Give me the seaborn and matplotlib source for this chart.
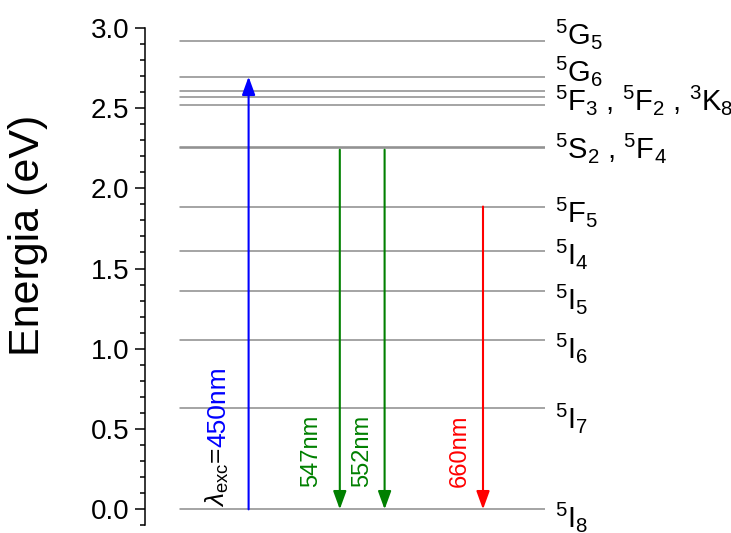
import matplotlib
matplotlib.use("Agg")
import matplotlib.pyplot as plt
from matplotlib.ticker import MultipleLocator, FormatStrFormatter
import numpy as np
import pandas as pd
import seaborn as sns

# Ho3+ energy levels (eV)
level_energy = [0.0, 0.633, 1.055, 1.363, 1.612, 1.886,
                2.248, 2.259, 2.518, 2.570, 2.605, 2.695, 2.918]

# Term labels and the energy each label refers to
term_labels = [r"$^{5}$I$_{8}$", r"$^{5}$I$_{7}$", r"$^{5}$I$_{6}$", r"$^{5}$I$_{5}$",
               r"$^{5}$I$_{4}$", r"$^{5}$F$_{5}$",
               r"$^{5}$S$_{2}$ , $^{5}$F$_{4}$",
               r"$^{5}$F$_{3}$ , $^{5}$F$_{2}$ , $^{3}$K$_{8}$",
               r"$^{5}$G$_{6}$", r"$^{5}$G$_{5}$"]
term_energy = [0.0, 0.633, 1.055, 1.363, 1.612, 1.886, 2.2535, 2.570, 2.695, 2.918]

# Transitions: start / end energies, wavelength labels
trans_start = [0.0, 2.24, 2.24, 1.886]
trans_end = [2.695, 0.0, 0.0, 0.0]
trans_labels = ["450nm", "547nm", "552nm", "660nm"]
trans_colors = ["#0000ff", "#008000", "#008000", "#ff0000"]

# layout (x in axis units 0..100)
line_x0, line_x1 = 8.75, 100.0
arrow_x = [25.9, 48.7, 59.9, 84.5]
text_x = [None, 41.5, 54.4, 78.75]
label_drop_px = [18, 20, 18, 19, 14, 16, 10.5, 13, 5, 3.5]

sns.set_style("ticks")
plt.rcParams["font.family"] = ["Liberation Sans", "DejaVu Sans"]
plt.rcParams["mathtext.fontset"] = "custom"
plt.rcParams["mathtext.rm"] = "Liberation Sans"
plt.rcParams["mathtext.it"] = "Liberation Sans:italic"
plt.rcParams["mathtext.bf"] = "Liberation Sans:bold"
for key in ["text.color", "axes.labelcolor", "xtick.color", "ytick.color",
            "axes.edgecolor"]:
    plt.rcParams[key] = "black"

W, H = 731, 533
fig = plt.figure(figsize=(W / 100, H / 100), dpi=100)
ax_left, ax_right = 145, 545
ax_top, ax_bot = 27.7, 525.4
ax = fig.add_axes([ax_left / W, (H - ax_bot) / H,
                   (ax_right - ax_left) / W, (ax_bot - ax_top) / H])

# energy level lines
df = pd.DataFrame({
    "x": np.tile([line_x0, line_x1], len(level_energy)),
    "E": np.repeat(level_energy, 2),
    "level": np.repeat(np.arange(len(level_energy)), 2),
})
sns.lineplot(data=df, x="x", y="E", units="level", estimator=None,
             color="#8c8c8c", lw=1.1, ax=ax, legend=False)

ax.set_xlim(0, 100)
ax.set_ylim(-0.1, 3.0)

# transition arrows
for x, e0, e1, c in zip(arrow_x, trans_start, trans_end, trans_colors):
    ax.annotate("", xy=(x, e1), xytext=(x, e0),
                arrowprops=dict(arrowstyle="-|>,head_length=0.55,head_width=0.2",
                                color=c, lw=1.5, shrinkA=0, shrinkB=0,
                                mutation_scale=20))

# emission wavelength labels
for x, lab, c in zip(text_x[1:], trans_labels[1:], trans_colors[1:]):
    ax.text(x, 0.139, lab, rotation=90, ha="center", va="bottom",
            color=c, fontsize=17)

# excitation label: black lambda part followed by blue wavelength
t1 = ax.text(20.0, 0.015, r"$\lambda_{\mathrm{exc}}$=", rotation=90,
             rotation_mode="anchor", ha="left", va="baseline",
             color="black", fontsize=19)
fig.canvas.draw()
bb = t1.get_window_extent()
y_end = ax.transData.inverted().transform((0, bb.y1))[1]
ax.text(20.0, y_end, trans_labels[0], rotation=90, rotation_mode="anchor",
        ha="left", va="baseline", color=trans_colors[0], fontsize=19)

# term labels on the right
for lab, e, d in zip(term_labels, term_energy, label_drop_px):
    ax.annotate(lab, xy=(102.5, e), xytext=(0, -d * 0.72),
                textcoords="offset points", ha="left", va="baseline",
                fontsize=21, annotation_clip=False)

# axis styling
for s in ["top", "right", "bottom"]:
    ax.spines[s].set_visible(False)
ax.spines["left"].set_linewidth(1.1)
ax.spines["left"].set_color("black")
ax.set_xticks([])
ax.set_xlabel("")
ax.yaxis.set_major_locator(MultipleLocator(0.5))
ax.yaxis.set_minor_locator(MultipleLocator(0.1))
ax.yaxis.set_major_formatter(FormatStrFormatter("%.1f"))
ax.tick_params(axis="y", which="major", direction="out", length=7.2, width=1.1,
               labelsize=20, pad=4, color="black", labelcolor="black")
ax.tick_params(axis="y", which="minor", direction="out", length=3.6, width=1.1,
               color="black")
ax.set_ylabel("Energia (eV)", fontsize=31, color="black")
ax.yaxis.set_label_coords(-0.2425, 0.5835)

fig.savefig("out.png", dpi=100)
